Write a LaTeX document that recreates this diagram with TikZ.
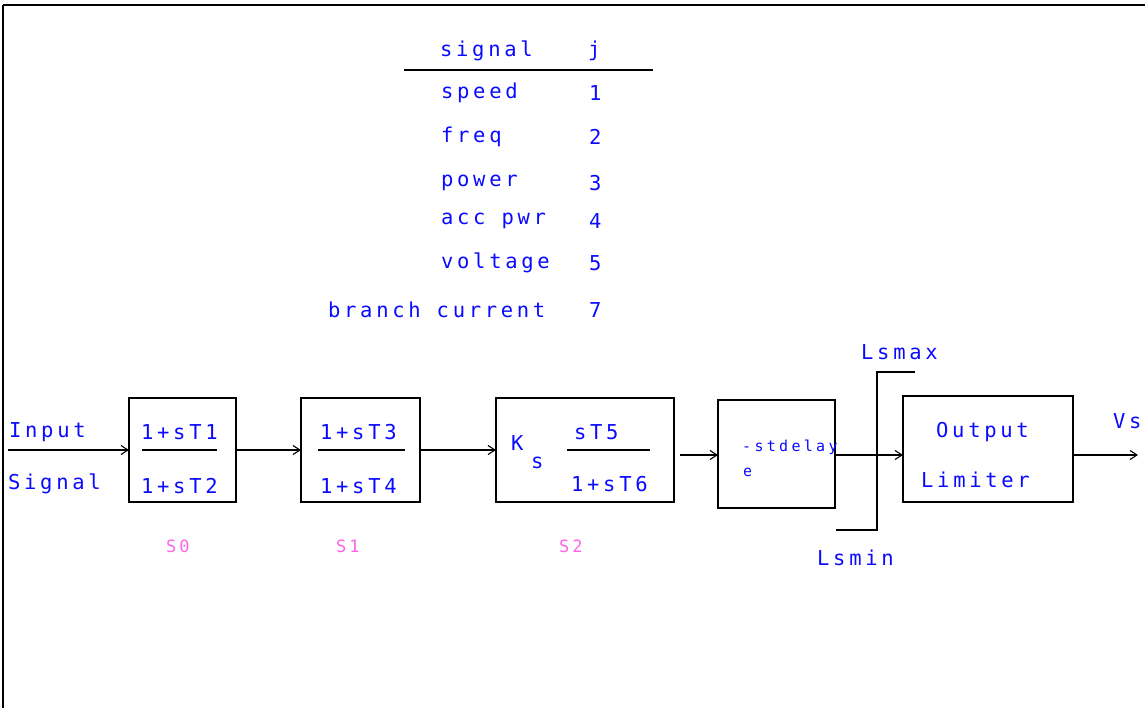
\documentclass[tikz,border=0pt]{standalone}
\usepackage{fontspec}
\newfontfamily\pix[LetterSpace=18]{DejaVu Sans Mono}
\newfontfamily\pixs[LetterSpace=22]{DejaVu Sans Mono}
\usetikzlibrary{arrows.meta}
\definecolor{txtblue}{RGB}{10,10,255}
\definecolor{lblpink}{RGB}{255,100,235}
\begin{document}
\begin{tikzpicture}[x=1pt,y=-1pt,
  txt/.style={font=\pix\fontsize{20.5}{20.5}\selectfont, text=txtblue, inner sep=0pt, anchor=west},
  small/.style={font=\pixs\fontsize{15}{15}\selectfont, text=txtblue, inner sep=0pt, anchor=west},
  lbl/.style={font=\pix\fontsize{17}{17}\selectfont, text=lblpink, inner sep=0pt, anchor=west},
  blk/.style={draw, line width=1.4pt, inner sep=0pt, outer sep=0pt},
  arr/.style={line width=1.1pt, -{Straight Barb[length=7pt,width=9pt]}},
  rule/.style={line width=1.2pt}]
\useasboundingbox (0,0) rectangle (1145,708);
% frame
\draw[line width=2.5pt] (3,5) -- (1145,5);
\draw[line width=1.8pt] (3,5) -- (3,708);

% table
\node[txt] (hsig) at (440,51) {signal};
\node[txt] (hj) at (588,51) {j};
\draw[rule] (404,70) -- (653,70);
\node[txt] (t1) at (441,93) {speed};   \node[txt] (n1) at (589,93) {1};
\node[txt] (t2) at (441,137) {freq};   \node[txt] (n2) at (589,137) {2};
\node[txt] (t3) at (441,183) {power};  \node[txt] (n3) at (589,183) {3};
\node[txt] (t4) at (441,221) {acc pwr};\node[txt] (n4) at (589,221) {4};
\node[txt] (t5) at (441,263) {voltage};\node[txt] (n5) at (589,263) {5};
\node[txt] (t7) at (328,310) {branch current};\node[txt] (n7) at (589,310) {7};

% blocks
\node[blk, minimum width=107pt, minimum height=104pt] (s0) at (182.5,450) {};
\node[blk, minimum width=119pt, minimum height=104pt] (s1) at (360.5,450) {};
\node[blk, minimum width=178pt, minimum height=104pt] (s2) at (585,450) {};
\node[blk, minimum width=117pt, minimum height=108pt] (dl) at (776.5,454) {};
\node[blk, minimum width=170pt, minimum height=106pt] (ol) at (988,449) {};

% block texts
\node[txt] (a1) at (141,432) {1+sT1};
\draw[rule] (142,450) -- (217,450);
\node[txt] (a2) at (141,486) {1+sT2};
\node[txt] (b1) at (320,432) {1+sT3};
\draw[rule] (318,450) -- (405,450);
\node[txt] (b2) at (320,486) {1+sT4};
\node[txt] (kk) at (511,443) {K};
\node[txt] (ks) at (531,463) {s};
\node[txt] (c1) at (574,432) {sT5};
\draw[rule] (567,450) -- (650,450);
\node[txt] (c2) at (571,484) {1+sT6};
\node[small] (d1) at (742,447) {-stdelay};
\node[small] (d2) at (743,472) {e};
\node[txt] (o1) at (936,432) {Output};
\node[txt] (o2) at (921,480) {Limiter};

% side texts
\node[txt] (in1) at (9,432) {Input};
\node[txt] (in2) at (8,484) {Signal};
\node[txt] (vs) at (1113,421) {Vs};
\node[txt] (lmax) at (861,352) {Lsmax};
\node[txt] (lmin) at (817,558) {Lsmin};
\node[lbl] (l0) at (166,546) {S0};
\node[lbl] (l1) at (336,546) {S1};
\node[lbl] (l2) at (559,546) {S2};

% limiter symbol
\draw[line width=1.4pt] (915,372) -- (877,372) -- (877,530) -- (836,530);

% connectors
\coordinate (inp) at (8,450);
\coordinate (outp) at (1138,455);
\draw[arr] (inp) -- (s0.west);
\draw[arr] (s0.east) -- (s1.west);
\draw[arr] (s1.east) -- (s2.west);
\draw[arr] ([xshift=6pt,yshift=-5pt]s2.east) -- ([yshift=-1pt]dl.west);
\draw[arr] ([yshift=-1pt]dl.east) -- ([yshift=-6pt]ol.west);
\draw[arr] ([yshift=-6pt]ol.east) -- (outp);
\end{tikzpicture}
\end{document}
